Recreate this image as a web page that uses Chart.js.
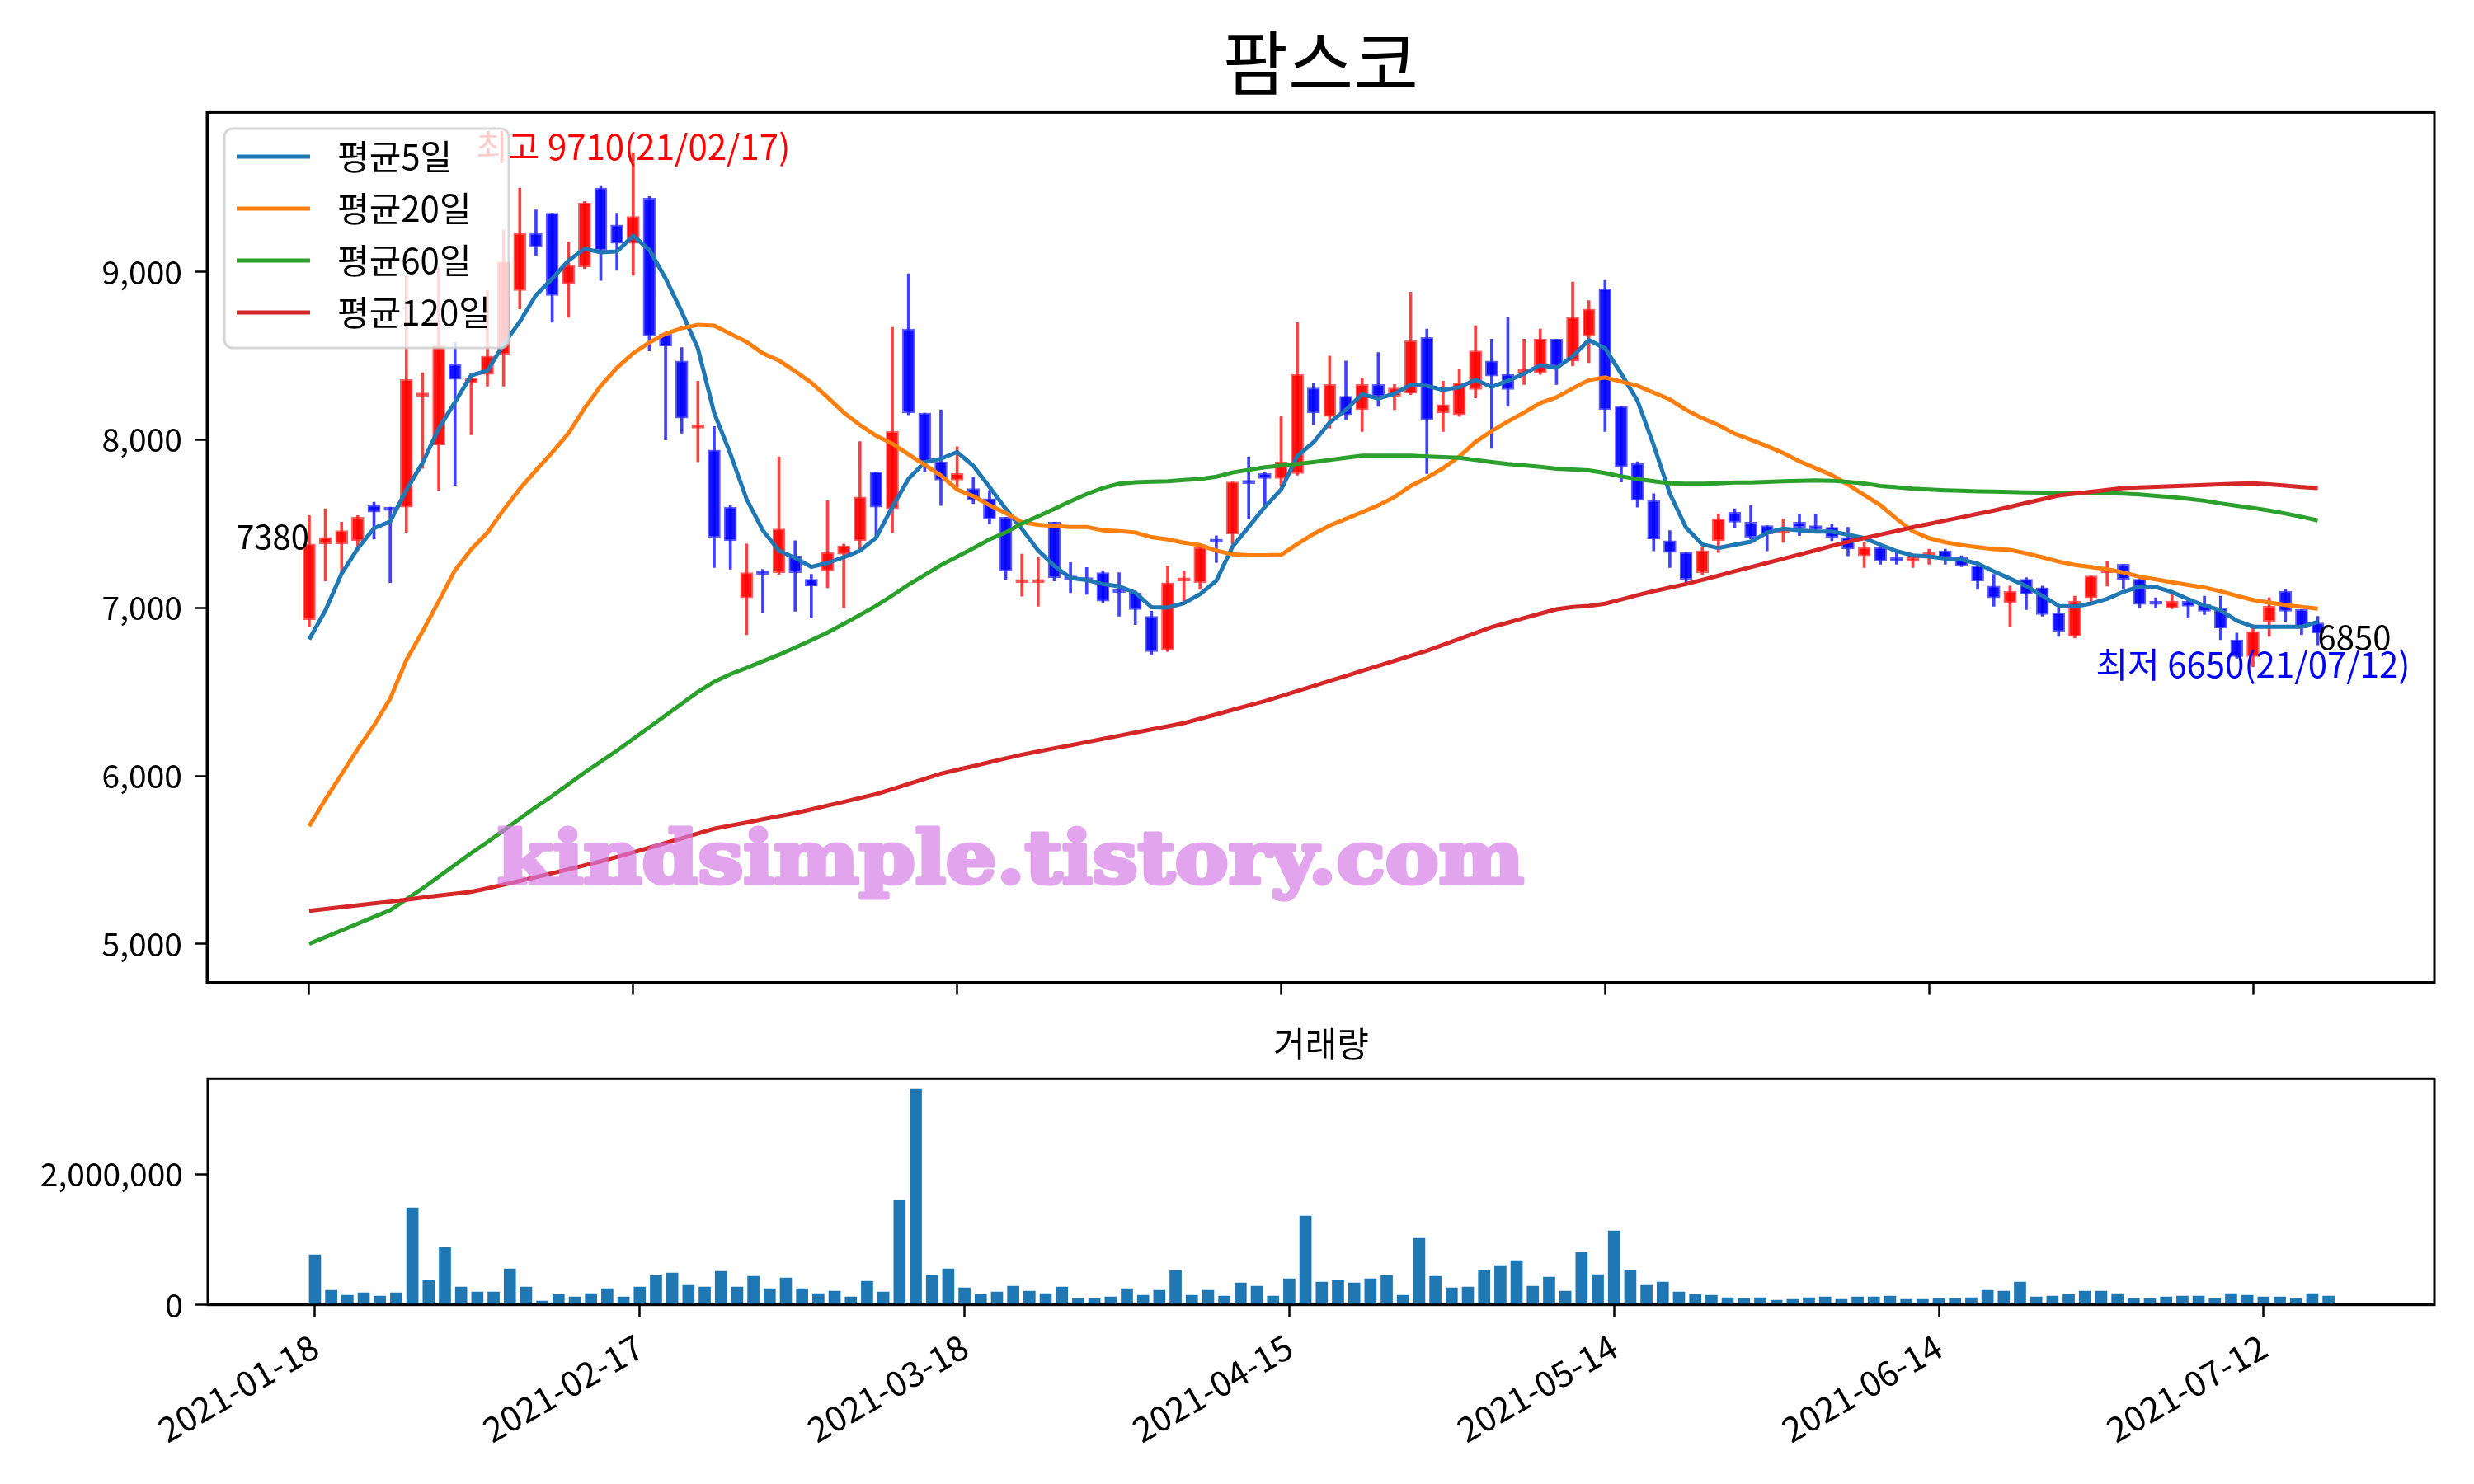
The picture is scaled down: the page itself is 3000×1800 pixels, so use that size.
<!DOCTYPE html>
<html>
<head>
<meta charset="utf-8">
<script src="https://cdn.jsdelivr.net/npm/chart.js@4.4.1/dist/chart.umd.min.js"></script>
<style>
  html, body { margin: 0; padding: 0; background: #fff; }
  #wrap { position: relative; width: 3000px; height: 1800px; background: #fff; }
  #priceChart { position: absolute; left: 0; top: 0; }
  #volChart { position: absolute; left: 0; top: 1230px; }
</style>
</head>
<body>
<div id="wrap">
  <canvas id="priceChart" width="3000" height="1230"></canvas>
  <canvas id="volChart" width="3000" height="570"></canvas>
</div>
<script>
const FONT = '"Noto Sans CJK KR", "Noto Sans", sans-serif';
Chart.defaults.font.family = FONT;
Chart.defaults.color = '#000';

// x축 눈금 (거래일 인덱스 기준)
const tickIdx = [0, 20, 40, 60, 80, 100, 120];
const tickLabels = ['2021-01-18', '2021-02-17', '2021-03-18', '2021-04-15', '2021-05-14', '2021-06-14', '2021-07-12'];
const priceTicks = [5000, 6000, 7000, 8000, 9000];
const volTicks = [0, 2000000];

// 일봉 (2021-01-18 ~ 2021-07-16)
const open = [
  6930, 7380, 7380, 7400, 7610, 7590, 7600, 8260, 7970, 8450,
  8340, 8390, 8510, 8890, 9230, 9350, 8930, 9030, 9500, 9280,
  9170, 9440, 8630, 8470, 8070, 7940, 7600, 7060, 7210, 7210,
  7310, 7170, 7220, 7320, 7400, 7810, 7590, 8660, 8160, 7870,
  7760, 7710, 7650, 7540, 7150, 7150, 7510, 7190, 7180, 7210,
  7100, 7090, 6950, 6750, 7160, 7150, 7400, 7440, 7750, 7800,
  7770, 7800, 8310, 8140, 8260, 8180, 8330, 8260, 8280, 8610,
  8160, 8150, 8300, 8470, 8390, 8400, 8400, 8600, 8470, 8620,
  8900, 8200, 7860, 7640, 7400, 7330, 7210, 7400, 7570, 7510,
  7490, 7450, 7510, 7490, 7480, 7420, 7310, 7360, 7290, 7280,
  7310, 7340, 7300, 7250, 7130, 7030, 7170, 7120, 6970, 6830,
  7060, 7210, 7260, 7170, 7030, 7000, 7040, 7020, 7000, 6810,
  6710, 6920, 7100, 6990, 6910
];
const high = [
  7550, 7590, 7510, 7550, 7630, 7600, 8980, 8400, 9030, 8580,
  8380, 8890, 9250, 9500, 9370, 9350, 9180, 9420, 9510, 9350,
  9710, 9450, 8640, 8550, 8350, 8080, 7610, 7380, 7230, 7900,
  7400, 7200, 7640, 7380, 7990, 7810, 8670, 8990, 8160, 8180,
  7960, 7780, 7700, 7540, 7320, 7300, 7510, 7270, 7240, 7220,
  7210, 7100, 6980, 7250, 7220, 7360, 7430, 7750, 7900, 7810,
  8140, 8700, 8340, 8500, 8470, 8370, 8520, 8330, 8880, 8660,
  8350, 8420, 8680, 8600, 8730, 8600, 8660, 8600, 8940, 8830,
  8950, 8200, 7870, 7680, 7460, 7330, 7360, 7560, 7590, 7610,
  7490, 7530, 7560, 7560, 7500, 7480, 7390, 7370, 7330, 7320,
  7350, 7350, 7310, 7255, 7200, 7130, 7180, 7130, 7000, 7070,
  7190, 7280, 7260, 7170, 7060, 7080, 7050, 7070, 7070, 6850,
  6900, 7060, 7110, 6990, 6950
];
const low = [
  6890, 7160, 7210, 7360, 7410, 7150, 7450, 7830, 7700, 7730,
  8030, 8320, 8320, 8780, 9100, 8700, 8730, 9020, 8950, 9010,
  8980, 8530, 8000, 8040, 7870, 7240, 7230, 6840, 6970, 7200,
  6980, 6940, 7120, 7000, 7350, 7420, 7450, 8150, 7810, 7610,
  7720, 7620, 7500, 7170, 7070, 7010, 7160, 7090, 7080, 7030,
  6950, 6900, 6720, 6740, 7040, 7110, 7270, 7380, 7530, 7610,
  7730, 7790, 8090, 8070, 8120, 8050, 8200, 8180, 8270, 7800,
  8050, 8140, 8250, 7950, 8200, 8330, 8390, 8330, 8440, 8460,
  8050, 7750, 7600, 7340, 7240, 7150, 7200, 7330, 7480, 7410,
  7340, 7390, 7430, 7450, 7400, 7310, 7240, 7260, 7260, 7240,
  7260, 7260, 7245, 7110, 7010, 6890, 6990, 6950, 6830, 6820,
  7040, 7130, 7110, 7000, 7000, 6995, 6940, 6960, 6810, 6700,
  6650, 6830, 6920, 6840, 6780
];
const close = [
  7380, 7420, 7460, 7540, 7570, 7580, 8360, 8270, 8560, 8360,
  8370, 8500, 9060, 9230, 9150, 8860, 9040, 9410, 9130, 9170,
  9330, 8620, 8560, 8130, 8080, 7420, 7400, 7210, 7200, 7470,
  7210, 7130, 7330, 7370, 7660, 7600, 8050, 8160, 7870, 7760,
  7800, 7640, 7530, 7220, 7160, 7160, 7180, 7170, 7160, 7040,
  7090, 6990, 6740, 7150, 7170, 7360, 7390, 7750, 7740, 7770,
  7870, 8390, 8160, 8330, 8150, 8330, 8260, 8310, 8590, 8120,
  8210, 8340, 8530, 8380, 8300, 8420, 8600, 8440, 8730, 8780,
  8180, 7840, 7640, 7410, 7330, 7170, 7340, 7530, 7510, 7420,
  7440, 7460, 7480, 7470, 7420, 7350, 7360, 7280, 7280, 7290,
  7320, 7300, 7250, 7160, 7060, 7100, 7080, 6960, 6860, 7040,
  7190, 7220, 7170, 7020, 7020, 7040, 7010, 6980, 6880, 6710,
  6860, 7010, 6980, 6880, 6850
];

// 이동평균선
const ma5 = [
  6813, 6984, 7204, 7354, 7474, 7514, 7702, 7864, 8068, 8226,
  8384, 8412, 8570, 8704, 8862, 8960, 9068, 9138, 9118, 9122,
  9216, 9132, 8962, 8762, 8544, 8162, 7918, 7648, 7462, 7340,
  7298, 7244, 7268, 7302, 7340, 7418, 7602, 7768, 7868, 7888,
  7928, 7846, 7720, 7590, 7470, 7342, 7250, 7178, 7166, 7142,
  7128, 7090, 7004, 7002, 7028, 7082, 7162, 7364, 7482, 7602,
  7704, 7904, 7986, 8104, 8180, 8272, 8246, 8276, 8328, 8322,
  8298, 8314, 8358, 8316, 8352, 8394, 8446, 8428, 8498, 8594,
  8546, 8394, 8234, 7970, 7680, 7478, 7378, 7356, 7376, 7394,
  7448, 7472, 7462, 7454, 7454, 7436, 7416, 7376, 7338, 7312,
  7306, 7294, 7288, 7264, 7218, 7174, 7130, 7072, 7012, 7008,
  7026, 7054, 7096, 7128, 7124, 7094, 7052, 7014, 6986, 6924,
  6888, 6888, 6888, 6888, 6916
];
const ma20 = [
  5700, 5860, 6010, 6160, 6300, 6460, 6690, 6860, 7040, 7224,
  7348, 7448, 7584, 7709, 7819, 7925, 8039, 8189, 8322, 8430,
  8516, 8580, 8632, 8665, 8685, 8681, 8632, 8584, 8516, 8473,
  8409, 8341, 8254, 8163, 8089, 8025, 7978, 7914, 7852, 7788,
  7705, 7665, 7612, 7565, 7510, 7495, 7487, 7482, 7482, 7462,
  7457, 7449, 7421, 7408, 7388, 7374, 7341, 7320, 7313, 7313,
  7316, 7380, 7440, 7490, 7530, 7570, 7611, 7660, 7726, 7775,
  7832, 7901, 7988, 8053, 8110, 8163, 8220, 8254, 8307, 8356,
  8372, 8347, 8323, 8282, 8241, 8179, 8130, 8089, 8037, 8001,
  7963, 7922, 7873, 7832, 7791, 7734, 7672, 7611, 7530, 7456,
  7415, 7391, 7374, 7361, 7350, 7345, 7325, 7301, 7276, 7256,
  7243, 7230, 7211, 7186, 7170, 7153, 7137, 7121, 7099, 7072,
  7047, 7031, 7018, 7006, 6995
];
const ma60 = [
  5000, 5040, 5080, 5120, 5160, 5200, 5265, 5330, 5400, 5470,
  5540, 5605, 5675, 5745, 5815, 5880, 5950, 6020, 6085, 6150,
  6220, 6290, 6360, 6430, 6500, 6560, 6605, 6643, 6682, 6721,
  6764, 6808, 6853, 6905, 6958, 7012, 7074, 7138, 7196, 7255,
  7305, 7355, 7408, 7449, 7502, 7545, 7590, 7635, 7678, 7714,
  7739, 7748, 7751, 7754, 7761, 7767, 7781, 7806, 7822, 7837,
  7847, 7857, 7868, 7881, 7894, 7906, 7906, 7906, 7906, 7901,
  7898, 7894, 7881, 7868, 7857, 7849, 7840, 7829, 7824, 7819,
  7803, 7783, 7767, 7754, 7742, 7739, 7739, 7742, 7747, 7747,
  7750, 7754, 7757, 7759, 7757, 7750, 7741, 7726, 7718, 7710,
  7705, 7700, 7697, 7694, 7692, 7690, 7688, 7686, 7685, 7685,
  7684, 7683, 7680, 7675, 7667, 7660, 7650, 7638, 7622, 7608,
  7595, 7580, 7562, 7542, 7521
];
const ma120 = [
  5196, 5207, 5218, 5229, 5240, 5251, 5263, 5275, 5287, 5298,
  5309, 5330, 5352, 5374, 5397, 5420, 5443, 5467, 5491, 5517,
  5544, 5572, 5600, 5628, 5657, 5685, 5704, 5722, 5741, 5760,
  5778, 5800, 5823, 5845, 5868, 5891, 5921, 5952, 5982, 6013,
  6036, 6058, 6081, 6104, 6126, 6145, 6164, 6182, 6201, 6220,
  6239, 6258, 6276, 6295, 6314, 6340, 6366, 6393, 6419, 6445,
  6475, 6505, 6535, 6565, 6595, 6625, 6655, 6685, 6715, 6745,
  6780, 6815, 6850, 6886, 6912, 6940, 6966, 6992, 7005, 7012,
  7025, 7050, 7076, 7100, 7121, 7142, 7167, 7192, 7218, 7243,
  7268, 7293, 7318, 7343, 7369, 7394, 7415, 7437, 7458, 7480,
  7500, 7520, 7540, 7560, 7580, 7602, 7625, 7647, 7669, 7680,
  7691, 7702, 7713, 7717, 7721, 7725, 7728, 7732, 7735, 7739,
  7742, 7735, 7728, 7720, 7713
];

// 거래량
const volume = [
  765000, 223000, 147000, 185000, 134000, 185000, 1483000, 374000, 878000, 273000,
  197000, 197000, 550000, 273000, 59000, 160000, 122000, 172000, 248000, 122000,
  273000, 450000, 487000, 298000, 273000, 513000, 273000, 437000, 248000, 412000,
  248000, 172000, 210000, 122000, 361000, 197000, 1596000, 3298000, 450000, 550000,
  260000, 160000, 197000, 286000, 210000, 172000, 273000, 97000, 97000, 122000,
  248000, 147000, 223000, 525000, 147000, 223000, 134000, 336000, 286000, 134000,
  399000, 1357000, 349000, 374000, 336000, 399000, 450000, 147000, 1017000, 437000,
  260000, 273000, 525000, 601000, 676000, 286000, 424000, 210000, 802000, 462000,
  1130000, 525000, 298000, 349000, 197000, 160000, 147000, 109000, 97000, 109000,
  71000, 84000, 109000, 122000, 84000, 122000, 122000, 134000, 84000, 84000,
  97000, 97000, 109000, 223000, 210000, 349000, 122000, 134000, 160000, 210000,
  210000, 172000, 97000, 97000, 122000, 134000, 134000, 97000, 172000, 147000,
  122000, 122000, 97000, 172000, 134000
];

const maLabels = ['평균5일', '평균20일', '평균60일', '평균120일'];
const maColors = ['#1f77b4', '#ff7f0e', '#2ca02c', '#d62728'];
const hiLabel = '최고 9710(21/02/17)';
const loLabel = '최저 6650(21/07/12)';
const watermark = 'kindsimple.tistory.com';

const hiIdx = high.indexOf(Math.max(...high));
const loIdx = low.indexOf(Math.min(...low));
const lastIdx = close.length - 1;

const UP_FILL = 'rgba(255,0,0,0.92)', UP_EDGE = 'rgba(255,40,40,0.75)', UP_WICK = 'rgba(255,0,0,0.75)';
const DN_FILL = 'rgba(0,0,255,0.92)', DN_EDGE = 'rgba(40,40,255,0.75)', DN_WICK = 'rgba(0,0,255,0.75)';

const isUp = close.map((c, i) => c >= open[i]);
const xy = arr => arr.map((v, i) => ({ x: i, y: v }));

const axisGrid = { display: true, offset: false, drawOnChartArea: false, drawTicks: true, tickLength: 15, tickWidth: 2.5, tickColor: '#000' };
const axisBorder = { display: true, color: '#000', width: 3 };
const fmt = v => Number(v).toLocaleString('en-US');

// 워터마크는 따로 그려서 반투명으로 얹는다
function drawWatermark(ctx) {
  const off = document.createElement('canvas');
  off.width = 1400;
  off.height = 160;
  const o = off.getContext('2d');
  o.font = 'bold 88px "DejaVu Serif"';
  const w = o.measureText(watermark).width;
  o.save();
  o.translate(6, 112);
  o.scale(1245 / w, 1);
  o.fillStyle = o.strokeStyle = 'rgb(214,122,230)';
  o.lineWidth = 5;
  o.lineJoin = 'round';
  o.strokeText(watermark, 0, 0);
  o.fillText(watermark, 0, 0);
  o.restore();
  ctx.save();
  ctx.globalAlpha = 0.68;
  ctx.drawImage(off, 597, 1071 - 112);
  ctx.restore();
}

// 축 테두리 + 주석 + 범례
const priceOverlay = {
  id: 'priceOverlay',
  afterDraw(chart) {
    const { ctx, chartArea: a, scales: { x, y } } = chart;
    drawWatermark(ctx);
    ctx.save();

    // 최고/최저, 시작/끝 종가
    ctx.textBaseline = 'middle';
    ctx.textAlign = 'center';
    ctx.font = '42px ' + FONT;
    ctx.fillStyle = '#ff0000';
    ctx.fillText(hiLabel, x.getPixelForValue(hiIdx), y.getPixelForValue(high[hiIdx]) - 7);
    ctx.fillStyle = '#0000ff';
    ctx.fillText(loLabel, x.getPixelForValue(loIdx), y.getPixelForValue(low[loIdx]) - 3);
    ctx.font = '40px ' + FONT;
    ctx.fillStyle = '#000';
    ctx.textAlign = 'right';
    ctx.fillText(String(close[0]), x.getPixelForValue(0), y.getPixelForValue(close[0]) - 9);
    ctx.textAlign = 'left';
    ctx.fillText(String(close[lastIdx]), x.getPixelForValue(lastIdx), y.getPixelForValue(close[lastIdx]) + 5);

    // 테두리
    ctx.strokeStyle = '#000';
    ctx.lineWidth = 3;
    ctx.strokeRect(a.left, a.top, a.right - a.left, a.bottom - a.top);

    // 범례
    const bx = 272, by = 156, bw = 345, bh = 266;
    ctx.beginPath();
    ctx.roundRect(bx, by, bw, bh, 10);
    ctx.fillStyle = 'rgba(255,255,255,0.8)';
    ctx.fill();
    ctx.strokeStyle = 'rgba(204,204,204,0.8)';
    ctx.lineWidth = 3;
    ctx.stroke();
    ctx.font = '42px ' + FONT;
    ctx.textAlign = 'left';
    ctx.textBaseline = 'middle';
    maLabels.forEach((label, i) => {
      const ly = 190 + i * 63;
      ctx.strokeStyle = maColors[i];
      ctx.lineWidth = 5;
      ctx.beginPath();
      ctx.moveTo(287, ly);
      ctx.lineTo(376, ly);
      ctx.stroke();
      ctx.fillStyle = '#000';
      ctx.fillText(label, 409, ly);
    });
    ctx.restore();
  }
};

const frameOnly = {
  id: 'frameOnly',
  afterDraw(chart) {
    const { ctx, chartArea: a } = chart;
    ctx.save();
    ctx.strokeStyle = '#000';
    ctx.lineWidth = 3;
    ctx.strokeRect(a.left, a.top, a.right - a.left, a.bottom - a.top);
    ctx.restore();
  }
};

const maSets = [ma5, ma20, ma60, ma120].map((arr, i) => ({
  type: 'line',
  label: maLabels[i],
  data: xy(arr),
  borderColor: maColors[i],
  borderWidth: 5,
  pointRadius: 0,
  tension: 0,
  order: 3 - i
}));

new Chart(document.getElementById('priceChart'), {
  type: 'bar',
  data: {
    datasets: [
      ...maSets,
      {
        label: 'body',
        data: close.map((c, i) => ({ x: i, y: [open[i], c] })),
        backgroundColor: isUp.map(u => u ? UP_FILL : DN_FILL),
        borderColor: isUp.map(u => u ? UP_EDGE : DN_EDGE),
        borderWidth: 2,
        borderSkipped: false,
        barThickness: 15,
        minBarLength: 4,
        grouped: false,
        order: 4
      },
      {
        label: 'wick',
        data: close.map((c, i) => ({ x: i, y: [low[i], high[i]] })),
        backgroundColor: isUp.map(u => u ? UP_WICK : DN_WICK),
        borderWidth: 0,
        barThickness: 3,
        grouped: false,
        order: 5
      }
    ]
  },
  options: {
    responsive: false,
    animation: false,
    devicePixelRatio: 1,
    layout: { padding: { left: 0, right: 48, top: 0, bottom: 0 } },
    plugins: {
      legend: { display: false },
      tooltip: { enabled: false },
      title: {
        display: true,
        fullSize: false,
        text: '팜스코',
        color: '#000',
        font: { size: 86, family: FONT, weight: 'normal', lineHeight: 1.2 },
        padding: { top: 24.9, bottom: 8.3 }
      }
    },
    scales: {
      x: {
        type: 'linear',
        offset: false,
        min: -6.31,
        max: 131.2,
        afterBuildTicks: s => { s.ticks = tickIdx.map(v => ({ value: v })); },
        afterFit: s => { s.height = 38; },
        ticks: { display: false },
        grid: axisGrid,
        border: axisBorder
      },
      y: {
        type: 'linear',
        min: 4770,
        max: 9950,
        afterBuildTicks: s => { s.ticks = priceTicks.map(v => ({ value: v })); },
        afterFit: s => { s.width = 251; },
        ticks: { callback: fmt, font: { size: 39 }, padding: 15, color: '#000' },
        grid: axisGrid,
        border: axisBorder
      }
    }
  },
  plugins: [priceOverlay]
});

new Chart(document.getElementById('volChart'), {
  type: 'bar',
  data: {
    datasets: [{
      label: '거래량',
      data: xy(volume),
      backgroundColor: '#1f77b4',
      barThickness: 14
    }]
  },
  options: {
    responsive: false,
    animation: false,
    devicePixelRatio: 1,
    layout: { padding: { left: 0, right: 48, top: 0, bottom: 0 } },
    plugins: {
      legend: { display: false },
      tooltip: { enabled: false },
      title: {
        display: true,
        fullSize: false,
        text: '거래량',
        color: '#000',
        font: { size: 42, family: FONT, weight: 'normal', lineHeight: 1.2 },
        padding: { top: 10.8, bottom: 17.1 }
      }
    },
    scales: {
      x: {
        type: 'linear',
        offset: false,
        min: -6.6,
        max: 130.52,
        afterBuildTicks: s => { s.ticks = tickIdx.map(v => ({ value: v })); },
        afterFit: s => { s.height = 217.3; },
        ticks: {
          callback: v => tickLabels[tickIdx.indexOf(v)],
          minRotation: 30,
          maxRotation: 30,
          autoSkip: false,
          font: { size: 42 },
          padding: 10,
          color: '#000'
        },
        grid: axisGrid,
        border: axisBorder
      },
      y: {
        type: 'linear',
        min: 0,
        max: 3459000,
        afterBuildTicks: s => { s.ticks = volTicks.map(v => ({ value: v })); },
        afterFit: s => { s.width = 252; },
        ticks: { callback: fmt, font: { size: 39 }, padding: 15, color: '#000' },
        grid: axisGrid,
        border: axisBorder
      }
    }
  },
  plugins: [frameOnly]
});
</script>
</body>
</html>
